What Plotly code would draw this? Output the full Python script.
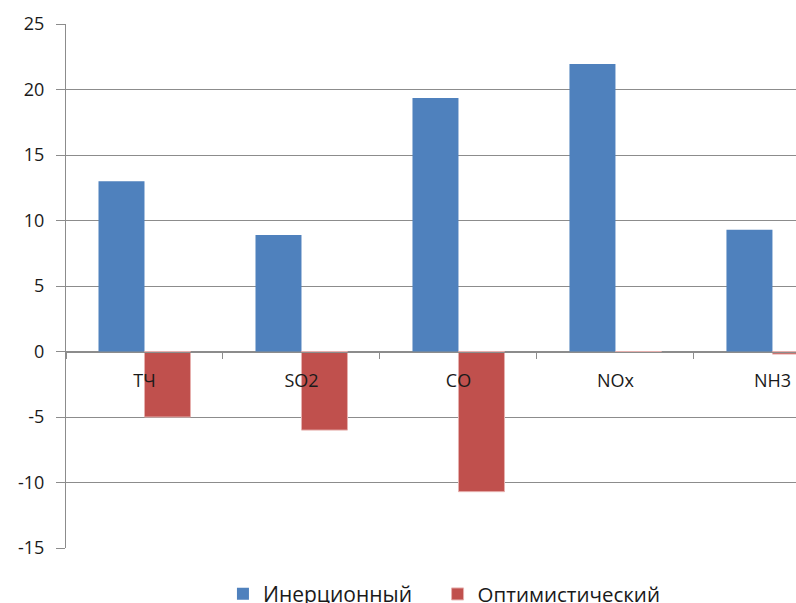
import plotly.graph_objects as go

categories = ["ТЧ", "SO2", "CO", "NOx", "NH3"]
inertial = [13.0, 8.9, 19.35, 21.95, 9.3]
optimistic = [-5.0, -6.0, -10.7, 0.0, -0.2]
series_names = ["Инерционный", "Оптимистический"]
y_ticks = [-15, -10, -5, 0, 5, 10, 15, 20, 25]
y_ticktext = [str(v) for v in y_ticks]

FONT = "Open Sans"
fig = go.Figure()
fig.add_trace(go.Bar(x=categories, y=inertial, name=series_names[0], legend="legend",
                     marker=dict(color="#4F81BD", line=dict(width=0))))
fig.add_trace(go.Bar(x=categories, y=optimistic, name=series_names[1], legend="legend2",
                     marker=dict(color="#C0504D", line=dict(color="#E6B0AE", width=1))))

leg_common = dict(orientation="h", xanchor="left", y=-0.088, yanchor="middle",
                  itemwidth=30, bgcolor="rgba(0,0,0,0)")

fig.update_layout(
    width=796, height=603,
    margin=dict(l=66, r=0, t=24, b=55, autoexpand=False),
    paper_bgcolor="white", plot_bgcolor="white",
    barmode="group", bargap=0.414, bargroupgap=0,
    font=dict(family=FONT, color="#1a1a1a", size=18),
    showlegend=True,
    legend=dict(x=0.215, font=dict(size=21, family=FONT, color="#1a1a1a"), **leg_common),
    legend2=dict(x=0.509, font=dict(size=20.5, family=FONT, color="#1a1a1a"), **leg_common),
    xaxis=dict(type="category", range=[-0.5, 4.15], anchor="free", position=0.375,
               showline=True, linecolor="#8C8C8C", linewidth=1,
               ticks="outside", tickson="boundaries", ticklen=6, tickcolor="#8C8C8C",
               ticklabelstandoff=13, automargin=False,
               showgrid=False, tickfont=dict(size=18), zeroline=False),
    yaxis=dict(range=[-15, 25], tickvals=y_ticks, ticktext=y_ticktext, showgrid=True,
               gridcolor="#8C8C8C", gridwidth=1, showline=True, linecolor="#8C8C8C",
               linewidth=1, ticks="outside", ticklen=9, tickcolor="#8C8C8C",
               ticklabelstandoff=8, automargin=False, zeroline=False,
               tickfont=dict(size=18)),
)
fig.write_html("out.html", config={"displayModeBar": False},
               post_script="document.body.style.margin='0';document.body.style.overflow='hidden';")
